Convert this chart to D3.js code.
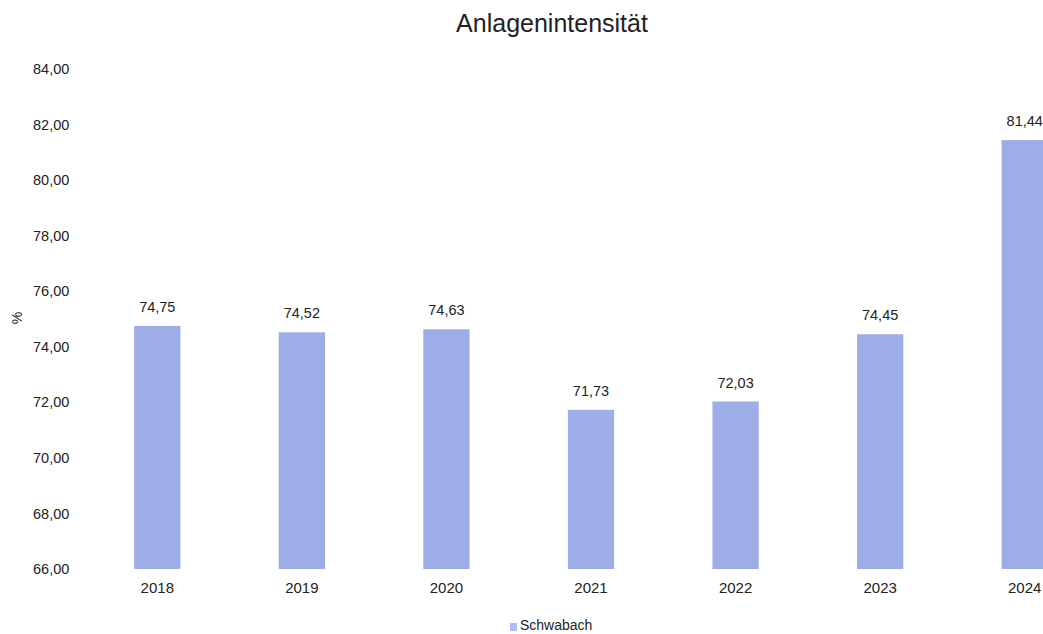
<!DOCTYPE html>
<html><head><meta charset="utf-8">
<script src="https://cdn.jsdelivr.net/npm/d3@7"></script>
<style>body{margin:0;background:#fff;overflow:hidden}svg{display:block;font-family:"Liberation Sans",Arial,sans-serif}</style>
</head><body>
<script>
const categories = ["2018","2019","2020","2021","2022","2023","2024"];
const values = [74.75,74.52,74.63,71.73,72.03,74.45,81.44];
const yTicks = [66,68,70,72,74,76,78,80,82,84];
const seriesName = "Schwabach";
const title = "Anlagenintensität";
const yLabel = "%";

const W = 1043, H = 634;
const svg = d3.select("body").append("svg").attr("width", W).attr("height", H);
const x = d3.scaleBand().domain(categories).range([85, 1097]).paddingInner(0.68).paddingOuter(0.34);
const y = d3.scaleLinear().domain([66, 84]).range([569, 69]);
const fmt = v => v.toFixed(2).replace(".", ",");
const FF = "Liberation Sans, Arial, sans-serif";

svg.append("text").attr("x", 552).attr("y", 32).attr("text-anchor","middle")
  .attr("font-size", 25).attr("fill","#222").text(title);

const yAxis = svg.append("g").attr("transform","translate(33,0)")
  .call(d3.axisLeft(y).tickValues(yTicks).tickFormat(fmt).tickSize(0));
yAxis.select(".domain").remove();
yAxis.selectAll("text").attr("text-anchor","start").attr("x",0).attr("font-size",14.5).attr("fill","#222")
  .attr("font-family",FF);

svg.append("text").attr("transform","translate(22,318) rotate(-90)").attr("text-anchor","middle")
  .attr("font-size",14).attr("fill","#222").text(yLabel);

svg.selectAll("rect.bar").data(values).join("rect").attr("class","bar")
  .attr("x",(d,i)=>x(categories[i])).attr("width",x.bandwidth())
  .attr("y",d=>y(d)).attr("height",d=>y(66)-y(d)).attr("fill","#9dade8");

svg.selectAll("text.val").data(values).join("text").attr("class","val")
  .attr("x",(d,i)=>x(categories[i])+x.bandwidth()/2).attr("y",d=>y(d)-14)
  .attr("text-anchor","middle").attr("font-size",14.5).attr("fill","#222").text(fmt);

const xAxis = svg.append("g").attr("transform","translate(0,569)")
  .call(d3.axisBottom(x).tickSize(0).tickPadding(13));
xAxis.select(".domain").remove();
xAxis.selectAll("text").attr("font-size",15).attr("fill","#222").attr("font-family",FF);

const lg = svg.append("g");
lg.append("rect").attr("x",510).attr("y",623).attr("width",7).attr("height",8).attr("fill","#a9c0f0");
lg.append("text").attr("x",520).attr("y",630).attr("font-size",14).attr("fill","#222").text(seriesName);
</script>
</body></html>
